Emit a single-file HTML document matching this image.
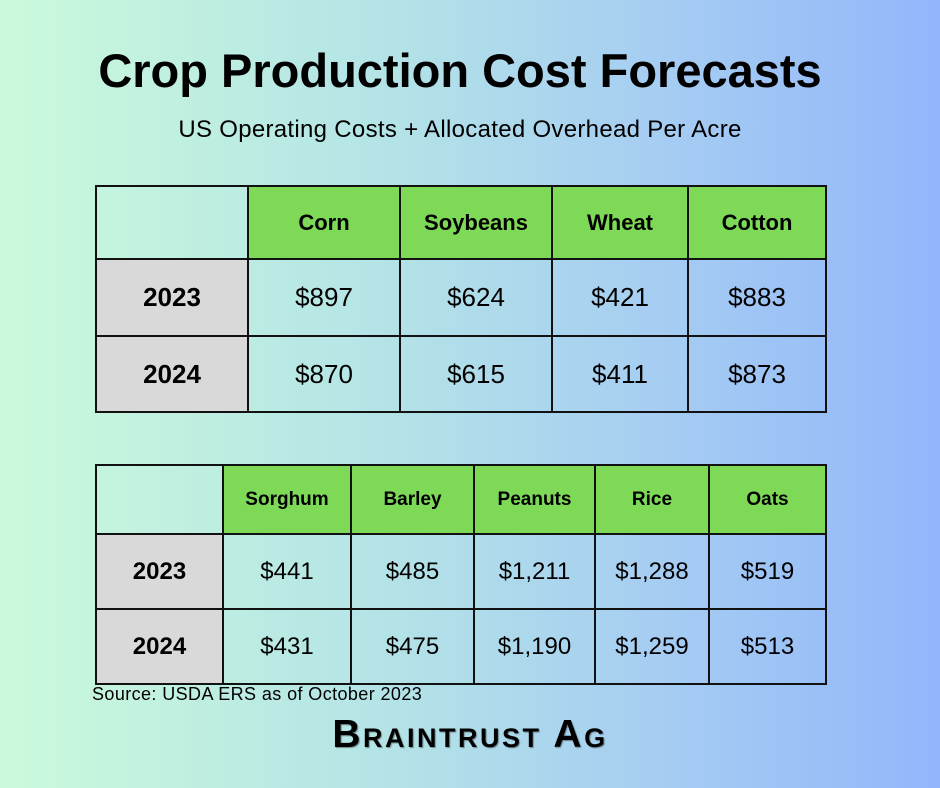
<!DOCTYPE html>
<html><head><meta charset="utf-8"><style>
html,body{margin:0;padding:0}
body{width:940px;height:788px;position:relative;overflow:hidden;font-family:"Liberation Sans",sans-serif;color:#000;
background:linear-gradient(90deg,#cbfadb 0%,#b4e4e6 40%,#a6cdf2 70%,#92b6fb 100%);}
.abs{position:absolute}
table{position:absolute;border-collapse:collapse;table-layout:fixed}
td{border:2px solid #111;text-align:center;padding:0}
.h{background:#7ed957;font-weight:bold}
.l{background:#d9d9d9;font-weight:bold}
#t1 td{font-size:26px}
#t1 td.h{font-size:22px}
#t1 td.l{font-size:26px}
#t2 td{font-size:24px}
#t2 td.h{font-size:19px}
#t2 td.l{font-size:24px}
</style></head><body>
<div class="abs" style="left:0;width:920px;top:43px;text-align:center;font-size:47px;font-weight:bold;">Crop Production Cost Forecasts</div>
<div class="abs" style="left:0;width:920px;top:116px;text-align:center;font-size:24px;letter-spacing:0.3px;">US Operating Costs + Allocated Overhead Per Acre</div>

<table id="t1" style="left:95px;top:185px;width:730px;height:226px;">
<colgroup><col style="width:152px"><col style="width:152px"><col style="width:152px"><col style="width:136px"><col style="width:138px"></colgroup>
<tr style="height:73px"><td></td><td class="h">Corn</td><td class="h">Soybeans</td><td class="h">Wheat</td><td class="h">Cotton</td></tr>
<tr style="height:77px"><td class="l">2023</td><td>$897</td><td>$624</td><td>$421</td><td>$883</td></tr>
<tr style="height:76px"><td class="l">2024</td><td>$870</td><td>$615</td><td>$411</td><td>$873</td></tr>
</table>

<table id="t2" style="left:95px;top:464px;width:730px;height:219px;">
<colgroup><col style="width:127px"><col style="width:128px"><col style="width:123px"><col style="width:121px"><col style="width:114px"><col style="width:117px"></colgroup>
<tr style="height:69px"><td></td><td class="h">Sorghum</td><td class="h">Barley</td><td class="h">Peanuts</td><td class="h">Rice</td><td class="h">Oats</td></tr>
<tr style="height:75px"><td class="l">2023</td><td>$441</td><td>$485</td><td>$1,211</td><td>$1,288</td><td>$519</td></tr>
<tr style="height:75px"><td class="l">2024</td><td>$431</td><td>$475</td><td>$1,190</td><td>$1,259</td><td>$513</td></tr>
</table>

<div class="abs" style="left:92px;top:684px;font-size:18px;letter-spacing:0.4px;">Source: USDA ERS as of October 2023</div>
<div class="abs" style="left:0;width:940px;top:713px;text-align:center;font-size:39px;font-weight:bold;font-variant:small-caps;letter-spacing:2.5px;font-family:'Liberation Sans',sans-serif;text-shadow:1px 1px 1px rgba(0,0,0,0.4);">Braintrust Ag</div>
</body></html>
